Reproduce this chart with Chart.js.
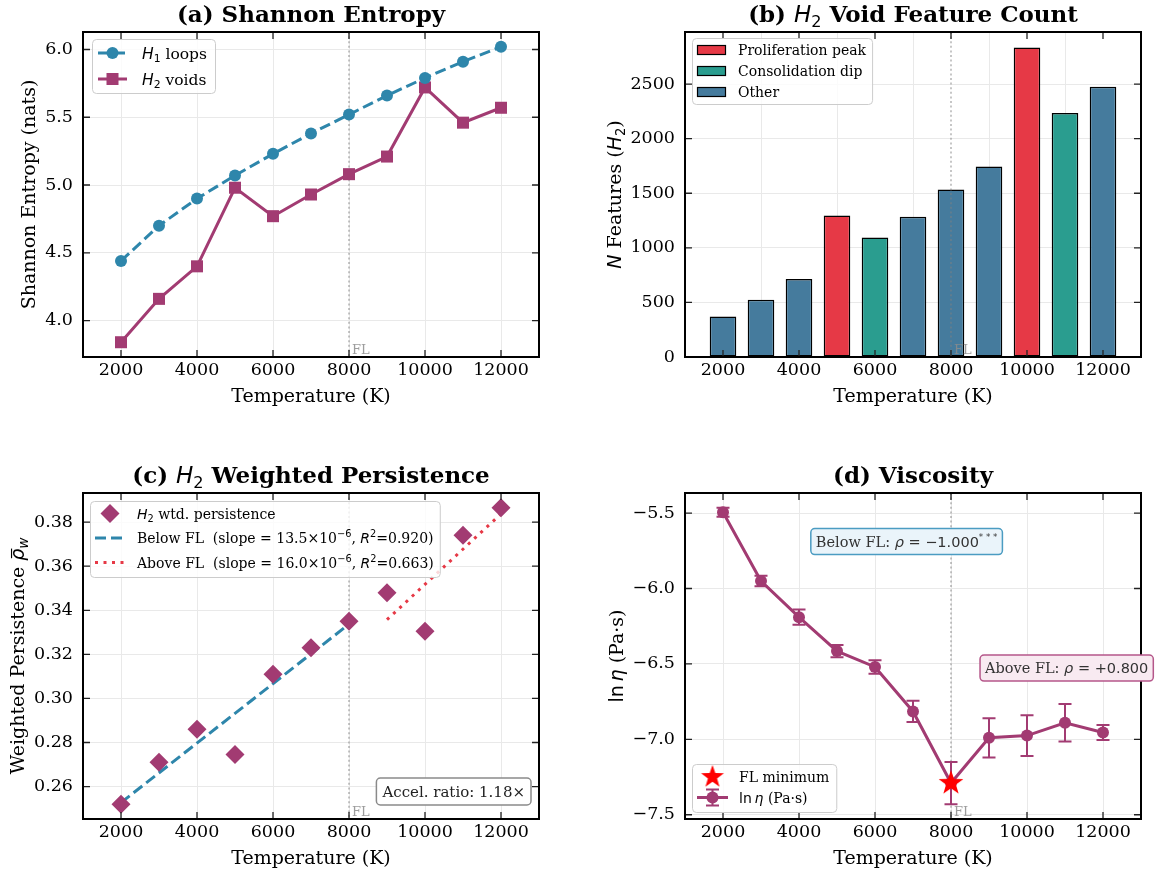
<!DOCTYPE html>
<html>
<head>
<meta charset="utf-8">
<script src="https://cdn.jsdelivr.net/npm/chart.js@4.4.1/dist/chart.umd.min.js"></script>
<style>
  html, body { margin: 0; padding: 0; background: #ffffff; }
  #wrap { position: relative; width: 1168px; height: 876px; overflow: hidden; }
  .panel { position: absolute; width: 584px; height: 438px; }
</style>
</head>
<body>
<div id="wrap">
  <div class="panel" style="left:0;top:0"><canvas id="chartEntropy"></canvas></div>
  <div class="panel" style="left:584px;top:0"><canvas id="chartCount"></canvas></div>
  <div class="panel" style="left:0;top:438px"><canvas id="chartPersistence"></canvas></div>
  <div class="panel" style="left:584px;top:438px"><canvas id="chartViscosity"></canvas></div>
</div>
<script>
// ---------------- data ----------------
const temperatures = [2000, 3000, 4000, 5000, 6000, 7000, 8000, 9000, 10000, 11000, 12000];
const flTemperature = 8000;

const entropyH1 = [4.44, 4.70, 4.90, 5.07, 5.23, 5.38, 5.52, 5.66, 5.79, 5.91, 6.02];
const entropyH2 = [3.84, 4.16, 4.40, 4.98, 4.77, 4.93, 5.08, 5.21, 5.72, 5.46, 5.57];

const voidCounts = [370, 525, 715, 1295, 1095, 1285, 1535, 1745, 2835, 2235, 2475];
const voidGroups = ['other', 'other', 'other', 'peak', 'dip', 'other', 'other', 'other', 'peak', 'dip', 'other'];
const groupKeys = ['peak', 'dip', 'other'];
const groupLabels = ['Proliferation peak', 'Consolidation dip', 'Other'];

const weightedPersistence = [0.252, 0.271, 0.286, 0.2745, 0.311, 0.323, 0.335, 0.348, 0.3305, 0.374, 0.3865];
const fitSlopeBelow = 13.5e-6;
const fitSlopeAbove = 16.0e-6;
const fitR2Below = 0.920;
const fitR2Above = 0.663;
const accelRatio = 1.18;

const lnViscosity = [-5.495, -5.95, -6.19, -6.415, -6.52, -6.815, -7.29, -6.99, -6.975, -6.89, -6.955];
const lnViscosityErr = [0.03, 0.035, 0.05, 0.04, 0.045, 0.07, 0.14, 0.13, 0.135, 0.125, 0.05];
const rhoBelow = '\u22121.000';
const rhoAbove = '+0.800';

const tempTicks = [2000, 4000, 6000, 8000, 10000, 12000];
const entropyTicks = [4.0, 4.5, 5.0, 5.5, 6.0];
const countTicks = [0, 500, 1000, 1500, 2000, 2500];
const persistenceTicks = [0.26, 0.28, 0.30, 0.32, 0.34, 0.36, 0.38];
const viscosityTicks = [-7.5, -7.0, -6.5, -6.0, -5.5];

// ---------------- style ----------------
const SERIF = '"DejaVu Serif", "Liberation Serif", serif';
const SANS = '"DejaVu Sans", "Liberation Sans", sans-serif';
const TICK_PX = 17.5, LABEL_PX = 19, TITLE_PX = 23, LEGEND_PX = 14, NOTE_PX = 14.5, FL_PX = 13;
const C_H1 = '#2E86AB', C_H2 = '#A23B72';
const groupColors = { peak: '#E63946', dip: '#2A9D8F', other: '#457B9D' };
const C_ABOVE = '#E63946';
const GRID = '#e9e9e9';
const W = 584, H = 438;

Chart.defaults.font.family = SERIF;
Chart.defaults.animation = false;

// ---------------- rich text helpers ----------------
function seg(t, o) { return Object.assign({ t: t }, o || {}); }
const MI = { sans: true, it: true };
const SUB = { sans: true, sc: 0.7, dy: 0.22 };
const SUP = { sans: true, sc: 0.7, dy: -0.42 };

function segFont(s, size) {
  return (s.it ? 'italic ' : '') + (s.b ? 'bold ' : '') + (size * (s.sc || 1)) + 'px ' + (s.sans ? SANS : SERIF);
}
function asSegs(v) { return typeof v === 'string' ? [seg(v)] : v; }
function richWidth(ctx, segs, size) {
  let w = 0;
  asSegs(segs).forEach(s => { ctx.font = segFont(s, size); w += ctx.measureText(s.t).width; });
  return w;
}
function drawRich(ctx, segs, x, y, size, align, color) {
  segs = asSegs(segs);
  const w = richWidth(ctx, segs, size);
  let cx = align === 'center' ? x - w / 2 : (align === 'right' ? x - w : x);
  ctx.save();
  ctx.textAlign = 'left';
  ctx.textBaseline = 'alphabetic';
  ctx.fillStyle = color || '#000';
  segs.forEach(s => {
    ctx.font = segFont(s, size);
    const sw = ctx.measureText(s.t).width;
    const yy = y + (s.dy || 0) * size;
    ctx.fillText(s.t, cx, yy);
    if (s.bar) {
      ctx.strokeStyle = color || '#000';
      ctx.lineWidth = Math.max(1, size * 0.06);
      ctx.beginPath();
      ctx.moveTo(cx + sw * 0.2, yy - size * 0.66);
      ctx.lineTo(cx + sw * 1.0, yy - size * 0.66);
      ctx.stroke();
    }
    cx += sw;
  });
  ctx.restore();
  return w;
}

function roundRect(ctx, x, y, w, h, r) {
  ctx.beginPath();
  ctx.moveTo(x + r, y);
  ctx.lineTo(x + w - r, y);
  ctx.arcTo(x + w, y, x + w, y + r, r);
  ctx.lineTo(x + w, y + h - r);
  ctx.arcTo(x + w, y + h, x + w - r, y + h, r);
  ctx.lineTo(x + r, y + h);
  ctx.arcTo(x, y + h, x, y + h - r, r);
  ctx.lineTo(x, y + r);
  ctx.arcTo(x, y, x + r, y, r);
  ctx.closePath();
}
function legendFrame(ctx, x, y, w, h) {
  ctx.save();
  roundRect(ctx, x + 0.5, y + 0.5, w, h, 4);
  ctx.fillStyle = 'rgba(255,255,255,0.8)';
  ctx.fill();
  ctx.strokeStyle = '#cccccc';
  ctx.lineWidth = 1;
  ctx.stroke();
  ctx.restore();
}
function noteBox(ctx, segs, cx, cy, size, fill, edge, align) {
  const w = richWidth(ctx, segs, size);
  const padX = 5, h = 26;
  let x0 = align === 'right' ? cx - w - padX : cx - w / 2 - padX;
  ctx.save();
  roundRect(ctx, x0, cy - h / 2, w + 2 * padX, h, 4);
  ctx.fillStyle = fill;
  ctx.fill();
  ctx.strokeStyle = edge;
  ctx.lineWidth = 1.5;
  ctx.stroke();
  ctx.restore();
  drawRich(ctx, segs, x0 + padX, cy + size * 0.36, size, 'left', '#333');
}

// marker shapes for legends
function markerCircle(ctx, x, y, r, color) {
  ctx.beginPath(); ctx.arc(x, y, r, 0, Math.PI * 2); ctx.fillStyle = color; ctx.fill();
}
function markerSquare(ctx, x, y, half, color) {
  ctx.fillStyle = color; ctx.fillRect(x - half, y - half, half * 2, half * 2);
}
function markerDiamond(ctx, x, y, r, color) {
  ctx.beginPath(); ctx.moveTo(x, y - r); ctx.lineTo(x + r, y); ctx.lineTo(x, y + r); ctx.lineTo(x - r, y); ctx.closePath();
  ctx.fillStyle = color; ctx.fill();
}
function starCanvas(outer, color) {
  const s = Math.ceil(outer * 2 + 4);
  const c = document.createElement('canvas');
  c.width = s; c.height = s;
  const g = c.getContext('2d');
  g.translate(s / 2, s / 2);
  g.beginPath();
  for (let i = 0; i < 10; i++) {
    const r = i % 2 ? outer * 0.40 : outer;
    const a = -Math.PI / 2 + i * Math.PI / 5;
    if (i === 0) g.moveTo(r * Math.cos(a), r * Math.sin(a)); else g.lineTo(r * Math.cos(a), r * Math.sin(a));
  }
  g.closePath();
  g.fillStyle = color;
  g.fill();
  return c;
}
const starImg = starCanvas(13, '#ff0000');
const starLegendImg = starCanvas(12, '#ff0000');

// ---------------- shared drawing ----------------
function drawFlLine(chart) {
  const { ctx, chartArea: a, scales: { x } } = chart;
  const px = x.getPixelForValue(flTemperature);
  ctx.save();
  ctx.strokeStyle = 'rgba(128,128,128,0.75)';
  ctx.lineWidth = 1.2;
  ctx.setLineDash([2, 2.6]);
  ctx.beginPath(); ctx.moveTo(px, a.top); ctx.lineTo(px, a.bottom); ctx.stroke();
  ctx.restore();
}
function drawFlText(chart) {
  const { ctx, chartArea: a, scales: { x } } = chart;
  const px = x.getPixelForValue(flTemperature);
  ctx.save();
  ctx.font = FL_PX + 'px ' + SERIF;
  ctx.fillStyle = 'rgba(140,140,140,0.85)';
  ctx.textAlign = 'left';
  ctx.textBaseline = 'alphabetic';
  ctx.fillText('FL', px + 3, a.bottom - 3);
  ctx.restore();
}
function drawTicksFrame(chart) {
  const { ctx, chartArea: a, scales: { x, y } } = chart;
  const L = 7;
  ctx.save();
  ctx.strokeStyle = '#222';
  ctx.lineWidth = 1.3;
  ctx.beginPath();
  x.ticks.forEach(t => {
    const px = x.getPixelForValue(t.value);
    ctx.moveTo(px, a.bottom); ctx.lineTo(px, a.bottom - L);
    ctx.moveTo(px, a.top); ctx.lineTo(px, a.top + L);
  });
  y.ticks.forEach(t => {
    const py = y.getPixelForValue(t.value);
    ctx.moveTo(a.left, py); ctx.lineTo(a.left + L, py);
    ctx.moveTo(a.right, py); ctx.lineTo(a.right - L, py);
  });
  ctx.stroke();
  ctx.strokeStyle = '#000';
  ctx.lineWidth = 2;
  ctx.strokeRect(a.left, a.top, a.right - a.left, a.bottom - a.top);
  ctx.restore();
}
function drawTitles(chart, cfg) {
  const { ctx, chartArea: a, scales: { y } } = chart;
  const midX = (a.left + a.right) / 2;
  drawRich(ctx, cfg.title, midX, a.top - 10, TITLE_PX, 'center', '#000');
  drawRich(ctx, 'Temperature (K)', midX, a.bottom + 45, LABEL_PX, 'center', '#000');
  // y label sits left of the widest tick label
  ctx.save();
  ctx.font = TICK_PX + 'px ' + SERIF;
  let maxW = 0;
  y.ticks.forEach(t => { maxW = Math.max(maxW, ctx.measureText(t.label).width); });
  ctx.restore();
  const baseX = a.left - 10 - maxW - 5.4 - 0.24 * LABEL_PX;
  ctx.save();
  ctx.translate(baseX, (a.top + a.bottom) / 2);
  ctx.rotate(-Math.PI / 2);
  drawRich(ctx, cfg.yLabel, 0, 0, LABEL_PX, 'center', '#000');
  ctx.restore();
}
function decor(cfg) {
  return {
    id: 'decor',
    beforeDatasetsDraw(chart) {
      if (!cfg.flOnTop) drawFlLine(chart);
      if (cfg.under) cfg.under(chart);
    },
    afterDatasetsDraw(chart) {
      if (cfg.flOnTop) drawFlLine(chart);
      drawTicksFrame(chart);
      drawFlText(chart);
      drawTitles(chart, cfg);
      if (cfg.over) cfg.over(chart);
    }
  };
}

function padRange(values, margin) {
  const lo = Math.min.apply(null, values), hi = Math.max.apply(null, values);
  const m = (hi - lo) * margin;
  return [lo - m, hi + m];
}

function baseOptions(frame, yRange, yTicks, yFmt) {
  return {
    responsive: true,
    maintainAspectRatio: false,
    devicePixelRatio: 1,
    animation: false,
    events: [],
    layout: { padding: { left: 0, top: frame.top, right: W - frame.right, bottom: 0 } },
    plugins: { legend: { display: false }, tooltip: { enabled: false }, title: { display: false } },
    scales: {
      x: {
        type: 'linear', min: 1000, max: 13000, bounds: 'data', offset: false,
        afterBuildTicks: s => { s.ticks = tempTicks.map(v => ({ value: v })); },
        afterFit: s => { s.height = H - frame.bottom; },
        grid: { color: GRID, lineWidth: 1, drawTicks: false },
        border: { display: false },
        ticks: { font: { family: SERIF, size: TICK_PX }, color: '#000', padding: 3, maxRotation: 0, autoSkip: false,
                 callback: v => String(v) }
      },
      y: {
        type: 'linear', min: yRange[0], max: yRange[1], bounds: 'data',
        afterBuildTicks: s => { s.ticks = yTicks.map(v => ({ value: v })); },
        afterFit: s => { s.width = frame.left; },
        grid: { color: GRID, lineWidth: 1, drawTicks: false },
        border: { display: false },
        ticks: { font: { family: SERIF, size: TICK_PX }, color: '#000', padding: 10, autoSkip: false,
                 callback: v => yFmt(v) }
      }
    }
  };
}

const pts = vals => temperatures.map((t, i) => ({ x: t, y: vals[i] }));

// ---------------- (a) Shannon entropy ----------------
new Chart(document.getElementById('chartEntropy'), {
  type: 'line',
  data: {
    datasets: [
      { label: 'H1 loops', data: pts(entropyH1), borderColor: C_H1, backgroundColor: C_H1, borderWidth: 3,
        borderDash: [11, 5], pointStyle: 'circle', pointRadius: 6, pointBorderWidth: 0, tension: 0 },
      { label: 'H2 voids', data: pts(entropyH2), borderColor: C_H2, backgroundColor: C_H2, borderWidth: 3,
        pointStyle: 'rect', pointRadius: 8.5, pointBorderWidth: 0, tension: 0 }
    ]
  },
  options: baseOptions({ left: 83, top: 32, right: 539, bottom: 357 },
    padRange(entropyH1.concat(entropyH2), 0.05), entropyTicks, v => v.toFixed(1)),
  plugins: [decor({
    title: [seg('(a) Shannon Entropy', { b: true })],
    yLabel: 'Shannon Entropy (nats)',
    over(chart) {
      const { ctx, chartArea: a } = chart;
      const bx = a.left + 9, by = a.top + 7, bw = 123, bh = 54;
      legendFrame(ctx, bx, by, bw, bh);
      const rows = [
        { c: C_H1, dash: [11, 5], mk: 'circle', segs: [seg('H', MI), seg('1', SUB), seg(' loops')] },
        { c: C_H2, dash: [], mk: 'square', segs: [seg('H', MI), seg('2', SUB), seg(' voids')] }
      ];
      const fs = 15.5;
      rows.forEach((r, i) => {
        const cy = by + 14 + i * 26;
        const hx0 = bx + 6, hx1 = bx + 35;
        ctx.save();
        ctx.strokeStyle = r.c; ctx.lineWidth = 3; ctx.setLineDash(r.dash);
        ctx.beginPath(); ctx.moveTo(hx0, cy); ctx.lineTo(hx1, cy); ctx.stroke();
        ctx.restore();
        if (r.mk === 'circle') markerCircle(ctx, (hx0 + hx1) / 2, cy, 6, r.c);
        else markerSquare(ctx, (hx0 + hx1) / 2, cy, 6, r.c);
        drawRich(ctx, r.segs, bx + 50, cy + fs * 0.36, fs, 'left', '#000');
      });
    }
  })]
});

// ---------------- (b) H2 void feature count ----------------
new Chart(document.getElementById('chartCount'), {
  type: 'bar',
  data: {
    datasets: [{
      label: 'N features',
      data: pts(voidCounts),
      backgroundColor: voidGroups.map(g => groupColors[g]),
      borderColor: '#000',
      borderWidth: 1.5,
      borderSkipped: false,
      barPercentage: 0.7,
      categoryPercentage: 1.0
    }]
  },
  options: baseOptions({ left: 101, top: 32, right: 557, bottom: 357 },
    [0, Math.max.apply(null, voidCounts) * 1.05], countTicks, v => String(v)),
  plugins: [decor({
    flOnTop: true,
    title: [seg('(b) ', { b: true }), seg('H', MI), seg('2', SUB), seg(' Void Feature Count', { b: true })],
    yLabel: [seg('N', MI), seg(' Features ('), seg('H', MI), seg('2', SUB), seg(')')],
    over(chart) {
      const { ctx, chartArea: a } = chart;
      const bx = a.left + 7, by = a.top + 6;
      let maxW = 0;
      groupLabels.forEach(l => { maxW = Math.max(maxW, richWidth(ctx, l, LEGEND_PX)); });
      legendFrame(ctx, bx, by, 46 + maxW + 6, 66);
      groupKeys.forEach((k, i) => {
        const cy = by + 12 + i * 21;
        ctx.save();
        ctx.fillStyle = groupColors[k];
        ctx.fillRect(bx + 5, cy - 5, 29, 10);
        ctx.strokeStyle = '#000'; ctx.lineWidth = 1.2;
        ctx.strokeRect(bx + 5.5, cy - 4.5, 28, 9);
        ctx.restore();
        drawRich(ctx, groupLabels[i], bx + 46, cy + LEGEND_PX * 0.36, LEGEND_PX, 'left', '#000');
      });
    }
  })]
});

// ---------------- (c) H2 weighted persistence ----------------
function fitSegment(lo, hi, slope) {
  const xs = [], ys = [];
  temperatures.forEach((t, i) => { if (t >= lo && t <= hi) { xs.push(t); ys.push(weightedPersistence[i]); } });
  const mx = xs.reduce((s, v) => s + v, 0) / xs.length;
  const my = ys.reduce((s, v) => s + v, 0) / ys.length;
  return [xs[0], xs[xs.length - 1]].map(t => ({ x: t, y: my + slope * (t - mx) }));
}
const fitBelow = fitSegment(2000, flTemperature, fitSlopeBelow);
const fitAbove = fitSegment(flTemperature + 1, 12000, fitSlopeAbove);

const slopeTxt = s => (s * 1e6).toFixed(1);
const legendC = [
  { kind: 'diamond', segs: [seg('H', MI), seg('2', SUB), seg(' wtd. persistence')] },
  { kind: 'dash', segs: [seg('Below FL  (slope = ' + slopeTxt(fitSlopeBelow) + '\u00d710'), seg('\u22126', SUP), seg(', '),
      seg('R', MI), seg('2', SUP), seg('=' + fitR2Below.toFixed(3) + ')')] },
  { kind: 'dot', segs: [seg('Above FL  (slope = ' + slopeTxt(fitSlopeAbove) + '\u00d710'), seg('\u22126', SUP), seg(', '),
      seg('R', MI), seg('2', SUP), seg('=' + fitR2Above.toFixed(3) + ')')] }
];

new Chart(document.getElementById('chartPersistence'), {
  type: 'scatter',
  data: {
    datasets: [
      { label: 'H2 wtd. persistence', data: pts(weightedPersistence), backgroundColor: C_H2, borderColor: C_H2,
        pointStyle: 'rectRot', pointRadius: 9.5, pointBorderWidth: 0, showLine: false, order: 0 },
      { label: 'Below FL', data: fitBelow, borderColor: C_H1, borderWidth: 3, borderDash: [11, 5],
        pointRadius: 0, showLine: true, order: 1 },
      { label: 'Above FL', data: fitAbove, borderColor: C_ABOVE, borderWidth: 3, borderDash: [3, 5.5],
        pointRadius: 0, showLine: true, order: 1 }
    ]
  },
  options: baseOptions({ left: 83, top: 55, right: 539, bottom: 381 },
    padRange(weightedPersistence, 0.05), persistenceTicks, v => v.toFixed(2)),
  plugins: [decor({
    title: [seg('(c) ', { b: true }), seg('H', MI), seg('2', SUB), seg(' Weighted Persistence', { b: true })],
    yLabel: [seg('Weighted Persistence '), seg('\u03c1', { sans: true, it: true, bar: true }),
             seg('w', { sans: true, it: true, sc: 0.7, dy: 0.22 })],
    over(chart) {
      const { ctx, chartArea: a } = chart;
      const bx = a.left + 7, by = a.top + 8;
      let maxW = 0;
      legendC.forEach(r => { maxW = Math.max(maxW, richWidth(ctx, r.segs, LEGEND_PX)); });
      legendFrame(ctx, bx, by, 47 + maxW + 6, 76);
      legendC.forEach((r, i) => {
        const cy = by + 12.5 + i * 24.5;
        const hx0 = bx + 5, hx1 = bx + 35;
        if (r.kind === 'diamond') markerDiamond(ctx, (hx0 + hx1) / 2, cy, 9.5, C_H2);
        else {
          ctx.save();
          ctx.strokeStyle = r.kind === 'dash' ? C_H1 : C_ABOVE;
          ctx.lineWidth = 3;
          ctx.setLineDash(r.kind === 'dash' ? [11, 5] : [3, 5.5]);
          ctx.beginPath(); ctx.moveTo(hx0, cy); ctx.lineTo(hx1, cy); ctx.stroke();
          ctx.restore();
        }
        drawRich(ctx, r.segs, bx + 47, cy + LEGEND_PX * 0.36, LEGEND_PX, 'left', '#000');
      });
      // acceleration ratio note, lower right
      const txt = 'Accel. ratio: ' + accelRatio.toFixed(2) + '\u00d7';
      const fs = 15;
      const w = richWidth(ctx, txt, fs);
      const x1 = a.right - 8, x0 = x1 - w - 12, yc = a.bottom - 27.5;
      ctx.save();
      roundRect(ctx, x0, yc - 13.5, w + 12, 27, 4);
      ctx.fillStyle = '#ffffff'; ctx.fill();
      ctx.strokeStyle = '#8a8a8a'; ctx.lineWidth = 1.5; ctx.stroke();
      ctx.restore();
      drawRich(ctx, txt, x0 + 6, yc + fs * 0.36, fs, 'left', '#222');
    }
  })]
});

// ---------------- (d) viscosity ----------------
const flIndex = temperatures.indexOf(flTemperature);
new Chart(document.getElementById('chartViscosity'), {
  type: 'line',
  data: {
    datasets: [
      { label: 'FL minimum', data: [{ x: flTemperature, y: lnViscosity[flIndex] }], showLine: false,
        pointStyle: starImg, pointRadius: 13, order: 0 },
      { label: 'ln eta', data: pts(lnViscosity), borderColor: C_H2, backgroundColor: C_H2, borderWidth: 3,
        pointStyle: 'circle', pointRadius: 6, pointBorderWidth: 0, tension: 0, order: 1 }
    ]
  },
  options: baseOptions({ left: 101, top: 55, right: 557, bottom: 381 },
    padRange(lnViscosity.map((v, i) => v - lnViscosityErr[i]).concat(lnViscosity.map((v, i) => v + lnViscosityErr[i])), 0.05),
    viscosityTicks, v => v.toFixed(1).replace('-', '\u2212')),
  plugins: [decor({
    title: [seg('(d) Viscosity', { b: true })],
    yLabel: [seg('ln', { sans: true }), seg('\u2009'), seg('\u03b7', MI), seg(' (Pa\u00b7s)')],
    under(chart) {
      const { ctx, scales: { x, y } } = chart;
      ctx.save();
      ctx.strokeStyle = C_H2;
      ctx.lineWidth = 2;
      ctx.beginPath();
      temperatures.forEach((t, i) => {
        const px = x.getPixelForValue(t);
        const pTop = y.getPixelForValue(lnViscosity[i] + lnViscosityErr[i]);
        const pBot = y.getPixelForValue(lnViscosity[i] - lnViscosityErr[i]);
        ctx.moveTo(px, pTop); ctx.lineTo(px, pBot);
        ctx.moveTo(px - 6.5, pTop); ctx.lineTo(px + 6.5, pTop);
        ctx.moveTo(px - 6.5, pBot); ctx.lineTo(px + 6.5, pBot);
      });
      ctx.stroke();
      ctx.restore();
    },
    over(chart) {
      const { ctx, chartArea: a } = chart;
      const w = a.right - a.left, h = a.bottom - a.top;
      noteBox(ctx, [seg('Below FL: '), seg('\u03c1', MI), seg(' = ' + rhoBelow, { sans: true }), seg('* * *', { sans: true, sc: 0.6, dy: -0.5 })],
        a.left + 0.486 * w, a.top + 0.149 * h, NOTE_PX, '#eaf4fa', '#4b9cc2', 'center');
      noteBox(ctx, [seg('Above FL: '), seg('\u03c1', MI), seg(' = ' + rhoAbove, { sans: true })],
        a.left + 0.837 * w, a.top + 0.537 * h, NOTE_PX, '#f8eaf1', '#b5578a', 'center');
      // legend, lower left
      const rows = [
        { kind: 'star', segs: 'FL minimum' },
        { kind: 'err', segs: [seg('ln', { sans: true }), seg('\u2009'), seg('\u03b7', MI), seg(' (Pa\u00b7s)')] }
      ];
      let maxW = 0;
      rows.forEach(r => { maxW = Math.max(maxW, richWidth(ctx, r.segs, LEGEND_PX)); });
      const bh = 48, bx = a.left + 7, by = a.bottom - 7 - bh;
      legendFrame(ctx, bx, by, 47 + maxW + 7, bh);
      rows.forEach((r, i) => {
        const cy = by + 13 + i * 20.5;
        const hx0 = bx + 5, hx1 = bx + 36, mx = (hx0 + hx1) / 2;
        if (r.kind === 'star') {
          ctx.drawImage(starLegendImg, mx - starLegendImg.width / 2, cy - starLegendImg.height / 2);
        } else {
          ctx.save();
          ctx.strokeStyle = C_H2; ctx.lineWidth = 3;
          ctx.beginPath(); ctx.moveTo(hx0, cy); ctx.lineTo(hx1, cy); ctx.stroke();
          ctx.lineWidth = 2;
          ctx.beginPath();
          ctx.moveTo(mx, cy - 8); ctx.lineTo(mx, cy + 8);
          ctx.moveTo(mx - 6.5, cy - 8); ctx.lineTo(mx + 6.5, cy - 8);
          ctx.moveTo(mx - 6.5, cy + 8); ctx.lineTo(mx + 6.5, cy + 8);
          ctx.stroke();
          ctx.restore();
          markerCircle(ctx, mx, cy, 6, C_H2);
        }
        drawRich(ctx, r.segs, bx + 47, cy + LEGEND_PX * 0.36, LEGEND_PX, 'left', '#000');
      });
    }
  })]
});
</script>
</body>
</html>
